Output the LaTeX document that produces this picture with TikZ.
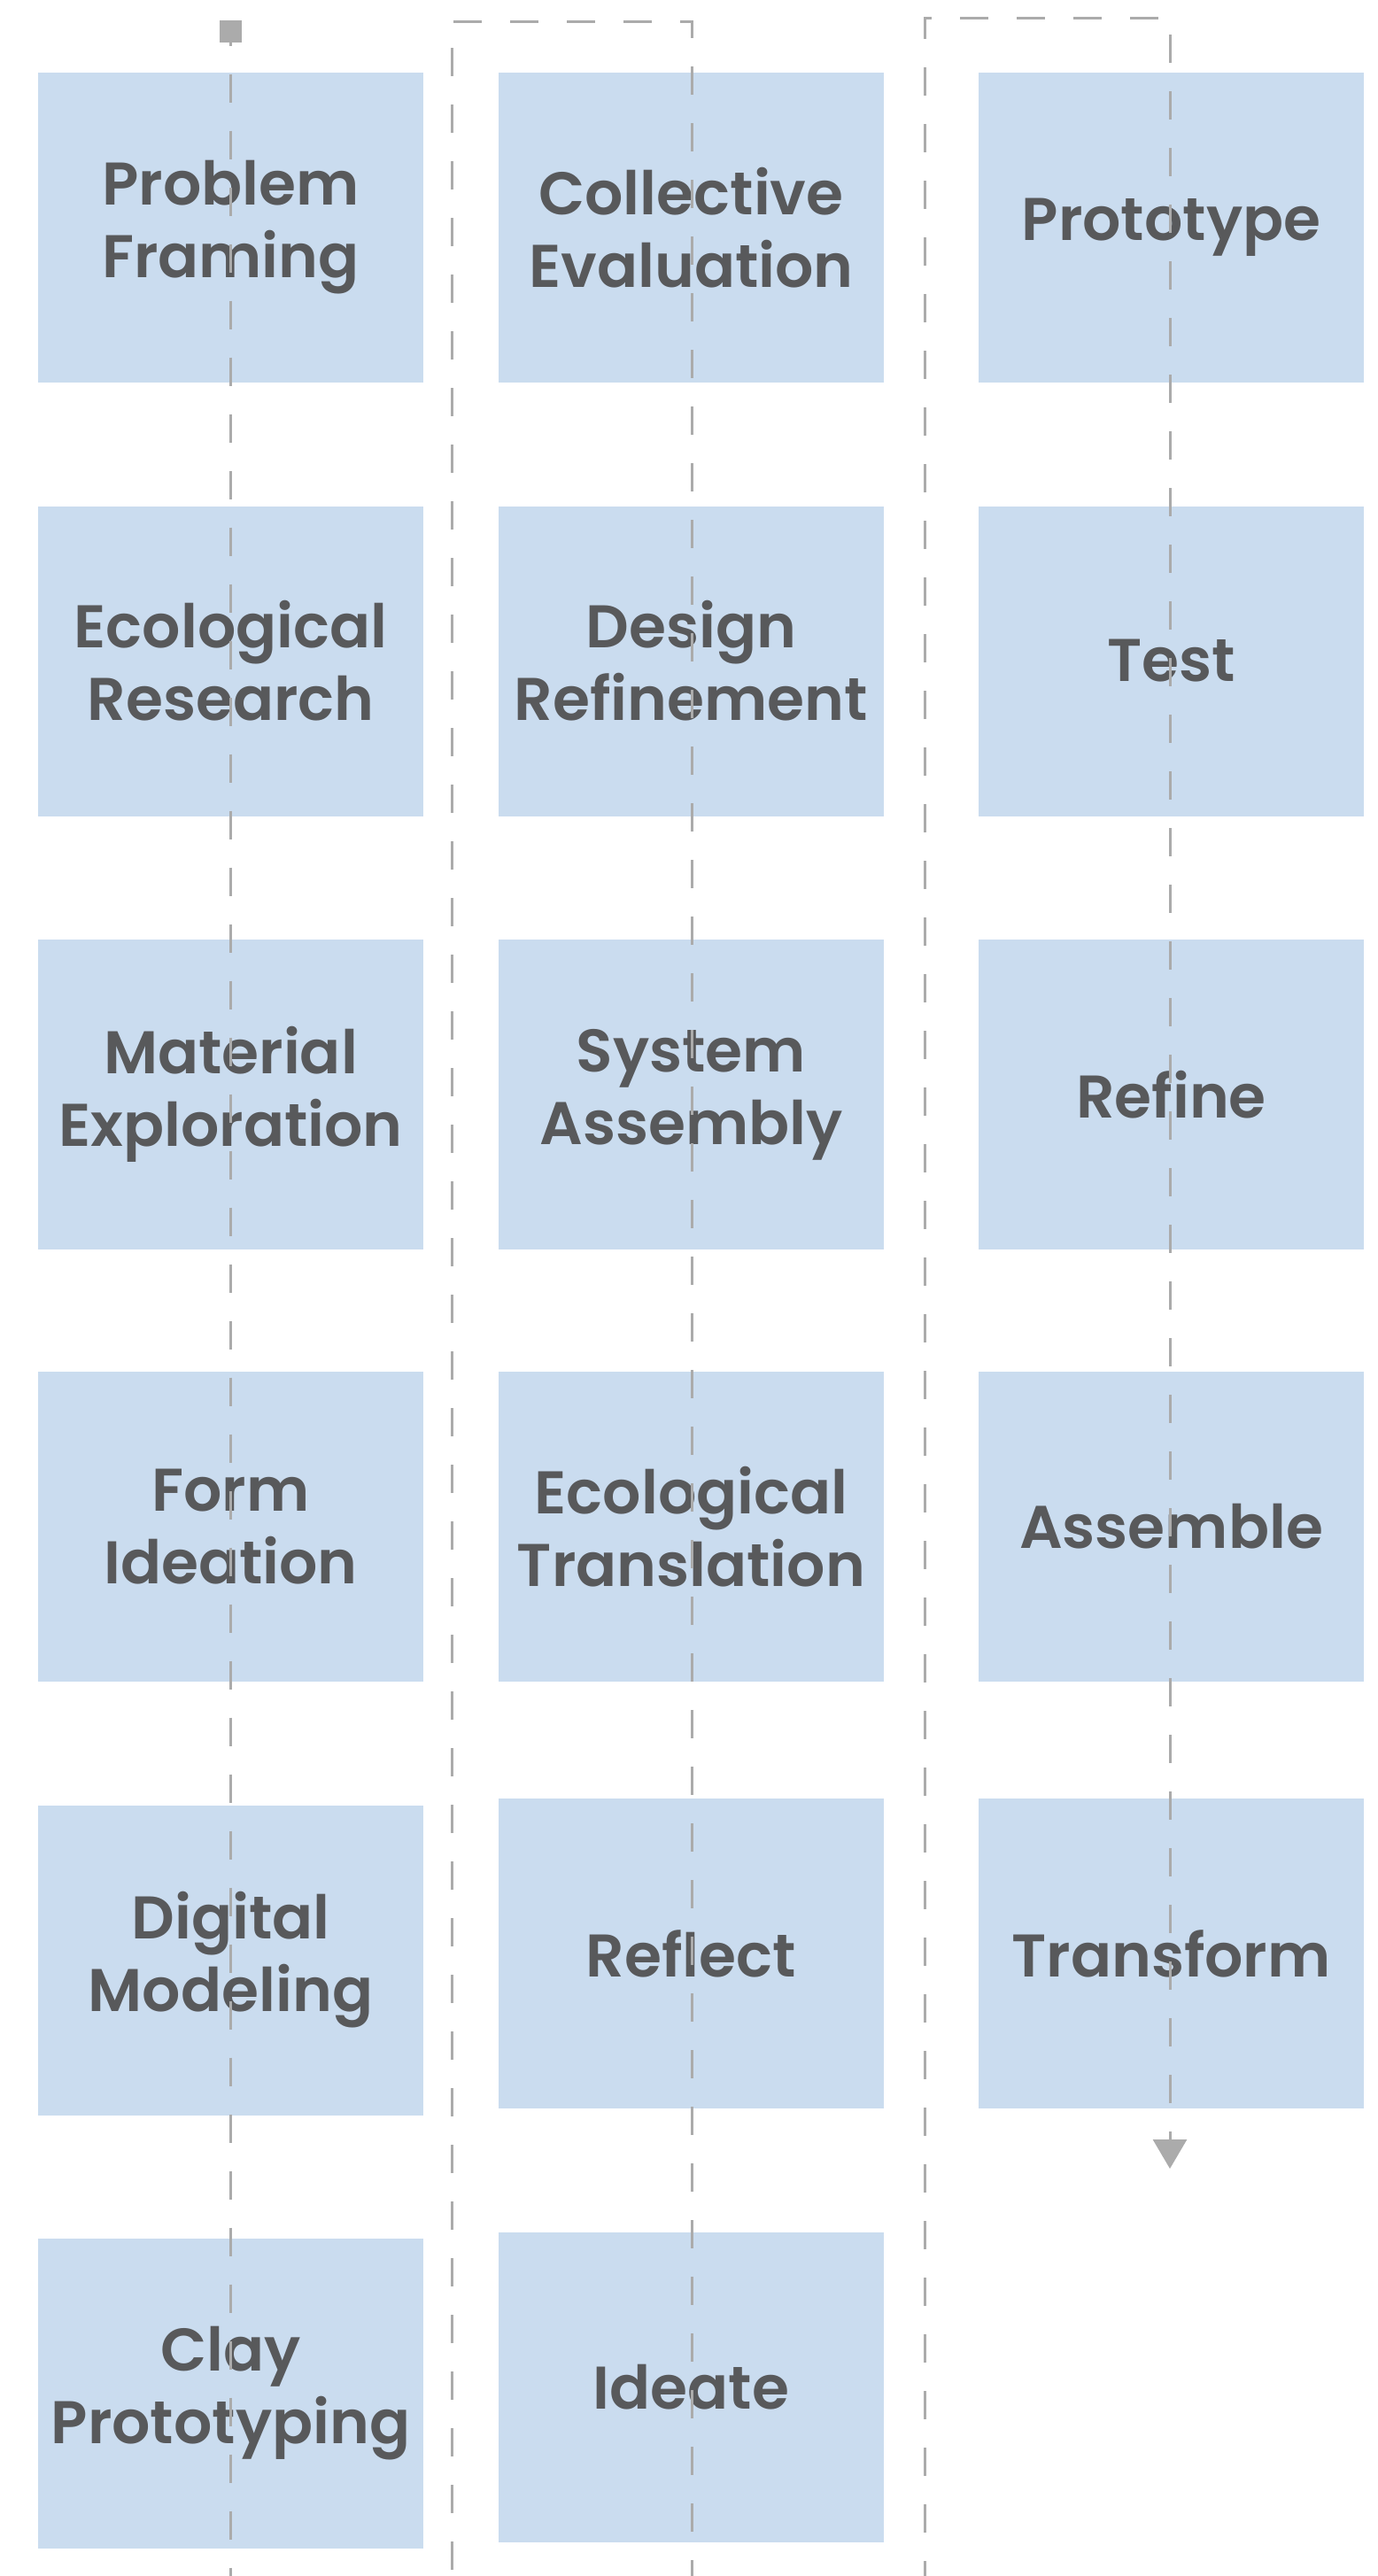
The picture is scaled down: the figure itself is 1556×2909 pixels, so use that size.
\documentclass[tikz,border=0pt]{standalone}
\usepackage{fontspec}
\newfontfamily\lab{Poppins SemiBold}
\usetikzlibrary{arrows.meta}
\definecolor{boxfill}{HTML}{CADCEF}
\definecolor{labtext}{HTML}{58595B}
\definecolor{flow}{HTML}{ABABAB}
\begin{document}
\begin{tikzpicture}[x=0.5pt,y=-0.5pt,
  stage/.style={fill=boxfill, minimum width=217.5pt, minimum height=175pt,
    inner sep=0pt, align=center, text=labtext,
    font=\lab\fontsize{34}{41}\selectfont},
  flowline/.style={draw=flow, line width=1.5pt, dash pattern=on 16pt off 16pt, dash phase=8pt},
  startmark/.style={fill=flow, minimum size=12.5pt, inner sep=0pt}]
\useasboundingbox (0,0) rectangle (1556,2909);

% first column
\node[stage] (pf) at (260.5,257)   {Problem\\Framing};
\node[stage] (er) at (260.5,746.5) {Ecological\\Research};
\node[stage] (me) at (260.5,1236)  {Material\\Exploration};
\node[stage] (fi) at (260.5,1724)  {Form\\Ideation};
\node[stage] (dm) at (260.5,2213.5){Digital\\Modeling};
\node[stage] (cp) at (260.5,2703)  {Clay\\Prototyping};

% second column
\node[stage] (ce) at (780.5,257)   {Collective\\Evaluation};
\node[stage] (dr) at (780.5,746.5) {Design\\Refinement};
\node[stage] (sa) at (780.5,1236)  {System\\Assembly};
\node[stage] (et) at (780.5,1724)  {Ecological\\Translation};
\node[stage] (rf) at (780.5,2206)  {Reflect};
\node[stage] (id) at (780.5,2695.5){Ideate};

% third column
\node[stage] (pt) at (1322.5,257)   {Prototype};
\node[stage] (ts) at (1322.5,746.5) {Test};
\node[stage] (rn) at (1322.5,1236)  {Refine};
\node[stage] (as) at (1322.5,1724)  {Assemble};
\node[stage] (tf) at (1322.5,2206)  {Transform};

% serpentine flow line
\node[startmark] (start) at (260.5,35.5) {};
\coordinate (c1) at (260.5,3000);
\coordinate (c2) at (510,3000);
\coordinate (c3) at (510,24);
\coordinate (c4) at (781,24);
\coordinate (c5) at (781,3000);
\coordinate (c6) at (1044,3000);
\coordinate (c7) at (1044,20);
\coordinate (c8) at (1321,20);
\coordinate (end) at (1321,2449);
\begin{scope}
\clip (0,0) rectangle (1556,2909);
\draw[flowline, -{Triangle[width=19pt,length=16.5pt]}]
  (start.center) -- (c1) -- (c2) -- (c3) -- (c4) -- (c5) -- (c6) -- (c7) -- (c8) -- (end);
\end{scope}
\node[startmark] at (start) {};
\end{tikzpicture}
\end{document}
